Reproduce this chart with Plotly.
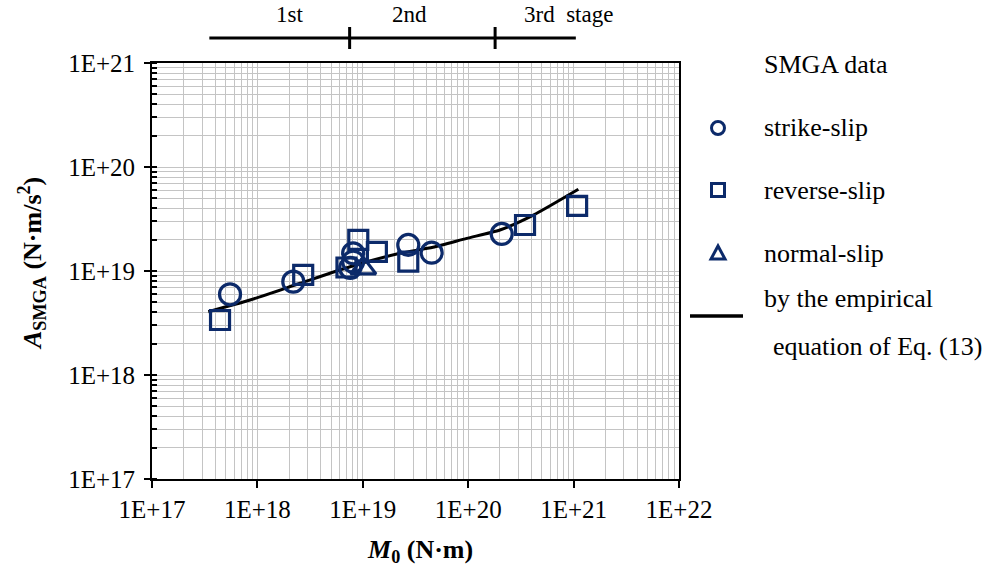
import math
import plotly.graph_objects as go

# ---------------- data ----------------
strike_m0 = [5.5e17, 2.19e18, 8.1e18, 8.1e18, 7.6e18, 2.7e19, 4.5e19, 2.08e20]
strike_a = [5.97e18, 7.9e18, 1.48e19, 1.23e19, 1.07e19, 1.78e19, 1.50e19, 2.27e19]

reverse_m0 = [4.42e17, 2.72e18, 9.06e18, 1.36e19, 7.0e18, 2.7e19, 3.46e20, 1.08e21]
reverse_a = [3.38e18, 9.16e18, 1.99e19, 1.53e19, 1.08e19, 1.23e19, 2.77e19, 4.22e19]

normal_m0 = [1.01e19]
normal_a = [1.06e19]

line_m0 = [3.42e17, 8.51e17, 2.54e18, 7.57e18, 2.25e19, 4.63e19, 9.68e19, 2.0e20, 4.15e20, 1.11e21]
line_a = [4.06e18, 5.26e18, 7.62e18, 1.10e19, 1.48e19, 1.69e19, 2.06e19, 2.48e19, 3.45e19, 6.11e19]

x_tickvals = [1e17, 1e18, 1e19, 1e20, 1e21, 1e22]
x_ticktext = ["1E+17", "1E+18", "1E+19", "1E+20", "1E+21", "1E+22"]
y_tickvals = [1e17, 1e18, 1e19, 1e20, 1e21]
y_ticktext = ["1E+17", "1E+18", "1E+19", "1E+20", "1E+21"]

stage_bounds = [3.5e17, 7.5e18, 1.8e20, 1.05e21]
stage_labels = ["1st", "2nd", "3rd  stage"]
stage_label_x = [2.0e18, 2.8e19, 9.0e20]

legend_labels = ["strike-slip", "reverse-slip", "normal-slip",
                 "by the empirical", "equation of Eq. (13)"]
legend_title = "SMGA data"

# ---------------- style ----------------
NAVY = "#0c2a6a"
GRID = "#c4c4c4"
FONT = "Liberation Serif"
W, H = 997, 574
OFF = 0  # page body margin removed via post_script
# plot area in page pixel coordinates
L, R, T, B = 152, 679, 63, 479


def px(xp):
    return (xp - L) / (R - L)


def py(yp):
    return (B - yp) / (B - T)


fig = go.Figure()

fig.add_trace(go.Scatter(x=line_m0, y=line_a, mode="lines",
                         line=dict(color="black", width=3, shape="spline", smoothing=0.6),
                         showlegend=False, hoverinfo="skip"))
fig.add_trace(go.Scatter(x=strike_m0, y=strike_a, mode="markers",
                         marker=dict(symbol="circle-open", size=21, color=NAVY,
                                     line=dict(width=3.2, color=NAVY)),
                         showlegend=False))
fig.add_trace(go.Scatter(x=reverse_m0, y=reverse_a, mode="markers",
                         marker=dict(symbol="square-open", size=19, color=NAVY,
                                     line=dict(width=3.2, color=NAVY)),
                         showlegend=False))
fig.add_trace(go.Scatter(x=normal_m0, y=normal_a, mode="markers",
                         marker=dict(symbol="triangle-up-open", size=22, color=NAVY,
                                     line=dict(width=3.2, color=NAVY)),
                         showlegend=False))

axis_common = dict(
    type="log", showline=True, linecolor="black", linewidth=2, mirror=True,
    showgrid=True, gridcolor=GRID, gridwidth=1, zeroline=False,
    tickfont=dict(family=FONT, size=25, color="black"),
    tickcolor="black", tickwidth=2,
)

fig.update_xaxes(**axis_common, range=[17, 22], tickvals=x_tickvals, ticktext=x_ticktext,
                 ticks="outside", ticklen=7,
                 minor=dict(dtick="D1", showgrid=True, gridcolor=GRID, gridwidth=1, ticks=""))
fig.update_yaxes(**axis_common, range=[17, 21], tickvals=y_tickvals, ticktext=y_ticktext,
                 ticks="outside", ticklen=6, ticklabelstandoff=4,
                 minor=dict(dtick="D1", showgrid=True, gridcolor=GRID, gridwidth=1,
                            ticks="inside", ticklen=5, tickcolor="black", tickwidth=1.5))

shapes = []
annotations = []

# stage bar above plot
bar_y = py(38)
shapes.append(dict(type="line", xref="x", yref="paper", x0=stage_bounds[0], x1=stage_bounds[-1],
                   y0=bar_y, y1=bar_y, line=dict(color="black", width=3)))
for b in stage_bounds[1:-1]:
    shapes.append(dict(type="line", xref="x", yref="paper", x0=b, x1=b,
                       y0=py(27), y1=py(49), line=dict(color="black", width=3)))
for lab, xv in zip(stage_labels, stage_label_x):
    annotations.append(dict(x=math.log10(xv), y=py(15), xref="x", yref="paper", text=lab,
                            showarrow=False, font=dict(family=FONT, size=23, color="black"),
                            xanchor="center", yanchor="middle"))

# legend (manual)
TX = 762
annotations.append(dict(x=px(TX), y=py(64), xref="paper", yref="paper", text=legend_title,
                        showarrow=False, xanchor="left", yanchor="middle",
                        font=dict(family=FONT, size=26, color="black")))
sym_x = 718
r = 6.5
shapes.append(dict(type="circle", xref="paper", yref="paper",
                   x0=px(sym_x - r), x1=px(sym_x + r), y0=py(128 + r), y1=py(128 - r),
                   line=dict(color=NAVY, width=3)))
shapes.append(dict(type="rect", xref="paper", yref="paper",
                   x0=px(sym_x - r), x1=px(sym_x + r), y0=py(190 + r), y1=py(190 - r),
                   line=dict(color=NAVY, width=3)))
ty = 253
tri = "M {} {} L {} {} L {} {} Z".format(px(sym_x - 7), py(ty + 6), px(sym_x + 7), py(ty + 6),
                                         px(sym_x), py(ty - 7))
shapes.append(dict(type="path", xref="paper", yref="paper", path=tri,
                   line=dict(color=NAVY, width=3)))
shapes.append(dict(type="line", xref="paper", yref="paper", x0=px(690), x1=px(743),
                   y0=py(316), y1=py(316), line=dict(color="black", width=3.5)))

leg_pos = [(TX, 127), (TX, 190), (TX, 253), (TX, 298), (TX + 9, 346)]
for lab, (lx, ly) in zip(legend_labels, leg_pos):
    annotations.append(dict(x=px(lx), y=py(ly), xref="paper", yref="paper", text=lab,
                            showarrow=False, xanchor="left", yanchor="middle",
                            font=dict(family=FONT, size=26, color="black")))

# axis titles
annotations.append(dict(x=px(420), y=py(551), xref="paper", yref="paper",
                        text="<b><i>M</i><sub>0</sub> (N·m)</b>", showarrow=False,
                        xanchor="center", yanchor="middle",
                        font=dict(family=FONT, size=26, color="black")))
annotations.append(dict(x=px(32), y=py(264), xref="paper", yref="paper",
                        text="<b><i>A</i><sub>SMGA</sub> (N·m/s<sup>2</sup>)</b>", showarrow=False,
                        textangle=-90, xanchor="center", yanchor="middle",
                        font=dict(family=FONT, size=26, color="black")))

fig.update_layout(
    width=W, height=H,
    margin=dict(l=L - OFF, r=W - (R - OFF), t=T - OFF, b=H - (B - OFF)),
    paper_bgcolor="white", plot_bgcolor="white",
    shapes=shapes, annotations=annotations, showlegend=False,
)

fig.write_html("out.html", config={"displayModeBar": False},
               post_script="document.body.style.margin='0px';")
